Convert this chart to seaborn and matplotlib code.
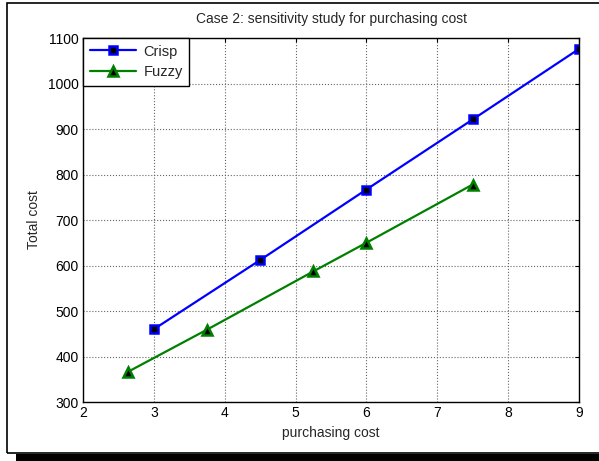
import matplotlib
matplotlib.use("Agg")
import matplotlib.pyplot as plt
import seaborn as sns
from matplotlib.patches import Rectangle

sns.set_style("white")
plt.rcParams['font.family'] = ['Liberation Sans', 'DejaVu Sans']

crisp_x = [3, 4.5, 6, 7.5, 9]
crisp_y = [460, 612, 767, 921, 1076]
fuzzy_x = [2.63, 3.75, 5.25, 6, 7.5]
fuzzy_y = [366, 459, 587, 650, 778]
x_ticks = [2, 3, 4, 5, 6, 7, 8, 9]
y_ticks = [300, 400, 500, 600, 700, 800, 900, 1000, 1100]

fig = plt.figure(figsize=(5.99, 4.61), dpi=100)
ax = fig.add_axes([83/599, 1-402/461, (579-83)/599, (402-38)/461])

sns.lineplot(x=crisp_x, y=crisp_y, ax=ax, color='#0000FF', marker='s', markersize=6,
             markerfacecolor='black', markeredgecolor='#0000FF', markeredgewidth=1.8,
             linewidth=1.6, label='Crisp')
sns.lineplot(x=fuzzy_x, y=fuzzy_y, ax=ax, color='#008000', marker='^', markersize=7,
             markerfacecolor='black', markeredgecolor='#008000', markeredgewidth=1.8,
             linewidth=1.6, label='Fuzzy')

ax.set_xlim(2, 9)
ax.set_ylim(300, 1100)
ax.set_xticks(x_ticks)
ax.set_yticks(y_ticks)
ax.tick_params(direction='in', top=True, right=True, length=3, labelsize=10, colors='black', pad=3)
ax.grid(True, linestyle=':', color='#666666', linewidth=0.8)
for s in ax.spines.values():
    s.set_color('black')
    s.set_linewidth(1.0)
ax.set_xlabel('purchasing cost', fontsize=10, labelpad=4)
ax.set_ylabel('Total cost', fontsize=10, labelpad=5)
ax.set_title('Case 2: sensitivity study for purchasing cost', fontsize=10, pad=11)

leg = ax.legend(loc='upper left', fontsize=10.5, frameon=True, fancybox=False,
                framealpha=1, edgecolor='black', borderaxespad=0, handlelength=3.2,
                borderpad=0.45, labelspacing=0.45, handletextpad=0.5)
leg.get_frame().set_linewidth(1.0)

# outer frame and shadow bar
fig.patches.append(Rectangle((6.5/599, 1-453/461), (610-6.5)/599, (453-3.5)/461,
                             transform=fig.transFigure, fill=False, edgecolor='black',
                             linewidth=1.2, zorder=0))
fig.patches.append(Rectangle((16/599, 0), (599-16)/599, (461-454)/461,
                             transform=fig.transFigure, facecolor='black',
                             edgecolor='none', zorder=0))

fig.savefig('out.png', dpi=100)
